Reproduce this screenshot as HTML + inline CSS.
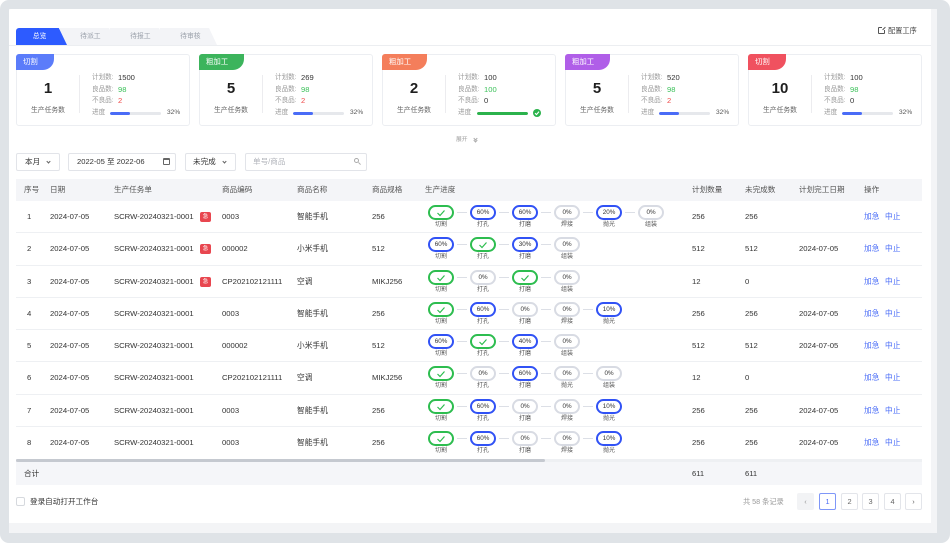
<!DOCTYPE html>
<html><head><meta charset="utf-8">
<style>
*{box-sizing:border-box;margin:0;padding:0}
html,body{width:950px;height:543px;overflow:hidden;background:#fff;font-family:"Liberation Sans","Noto Sans CJK SC",sans-serif;color:#333}
.a{position:absolute;white-space:nowrap}
.frame{position:absolute;left:0;top:0;width:950px;height:543px;background:#dfe3e7;border-radius:9px}
.strip{position:absolute;left:9px;top:9px;width:928px;height:524px;background:#f3f4f6}
.panel{position:absolute;left:9px;top:9px;width:922px;height:514px;background:#fff;border-radius:2px 0 0 0}
.tab{position:absolute;top:28px;height:17px;line-height:17px;font-size:6.8px;text-align:center;color:#9aa0aa}
.cd{position:absolute;top:54px;width:174px;height:72px;border:1px solid #eceef2;border-radius:3px;background:#fff}
.tag{position:absolute;left:-1px;top:-1px;height:16px;line-height:16px;padding-left:7px;font-size:7.4px;color:#fff;border-radius:3px 0 11px 0}
.num{position:absolute;left:0;width:62px;top:25px;text-align:center;font-size:15px;font-weight:bold;color:#1f1f1f;line-height:18px}
.sub{position:absolute;left:0;width:62px;top:52px;text-align:center;font-size:6.8px;color:#666;line-height:8px}
.dv{position:absolute;left:62px;top:20px;width:1px;height:38px;background:#ececef}
.lb{position:absolute;left:75px;font-size:6.6px;color:#9a9a9a;line-height:8px}
.vl{position:absolute;left:101px;font-size:7.6px;color:#333;line-height:8px}
.bar{position:absolute;left:93px;top:57px;width:51px;height:3px;background:#e6e8ec;border-radius:2px;overflow:hidden}
.bar i{display:block;height:3px;background:#4a6cf7;border-radius:2px}
.pc{position:absolute;left:150px;top:54px;font-size:6.6px;color:#555;line-height:8px}
.fb{position:absolute;top:153px;height:18px;border:1px solid #e2e4e9;border-radius:2px;font-size:7.6px;line-height:16px;color:#333}
.caret{position:absolute;width:3px;height:3px;border-right:1px solid #666;border-bottom:1px solid #666;transform:rotate(45deg)}
.hd{position:absolute;left:16px;top:179px;width:906px;height:22px;background:#f4f5f8;font-size:7.6px;color:#555}
.hd span{position:absolute;top:0;line-height:22px;white-space:nowrap}
.r{position:absolute;left:16px;width:906px;height:32.25px;border-bottom:1px solid #eef0f3;font-size:7.7px;color:#333}
.r .c{position:absolute;top:0;line-height:31px;white-space:nowrap}
.r .bl{color:#4a6cf7}
.bd{position:absolute;left:184px;top:11px;width:11px;height:10px;background:#e8464f;border-radius:2px;color:#fff;font-size:5.5px;line-height:10px;text-align:center}
.p{position:absolute;top:4px;width:26px;height:15px;border:2px solid #d8dbe3;border-radius:8px;font-size:6.3px;line-height:11px;text-align:center;color:#333;background:#fff}
.p.g{border-color:#2dbd4f}
.p.b{border-color:#3152f5}
.p svg{display:block;margin:2px auto 0}
.l{position:absolute;top:21px;width:26px;text-align:center;font-size:6px;line-height:7px;color:#555}
.cn{position:absolute;top:11px;width:10px;height:1px;background:#dcdfe6}
.pg{position:absolute;top:493px;width:17px;height:17px;border:1px solid #e3e5ea;border-radius:2px;font-size:7.4px;line-height:15px;text-align:center;color:#666;background:#fff}
</style></head>
<body>
<div class="frame"></div>
<div class="strip"></div>
<div class="panel"></div>

<!-- tabs -->
<div class="a" style="left:9px;top:45px;width:922px;height:1px;background:#eceef1"></div>
<div class="tab" style="left:160px;width:57px;background:#f3f4f7;clip-path:polygon(0 0,86% 0,100% 100%,0 100%)">&nbsp;&nbsp;待审核</div>
<div class="tab" style="left:110px;width:57px;background:#f3f4f7;clip-path:polygon(0 0,86% 0,100% 100%,0 100%)">&nbsp;&nbsp;待报工</div>
<div class="tab" style="left:60px;width:57px;background:#f3f4f7;clip-path:polygon(0 0,86% 0,100% 100%,0 100%)">&nbsp;&nbsp;待派工</div>
<div class="tab" style="left:16px;width:51px;background:#2d5bff;color:#fff;border-radius:3px 0 0 0;clip-path:polygon(0 0,84% 0,100% 100%,0 100%)">总览&nbsp;&nbsp;</div>

<!-- config -->
<div class="a" style="left:878px;top:27px;width:7px;height:7px;border:1px solid #555;border-radius:1px"></div>
<div class="a" style="left:882px;top:26px;width:4px;height:4px;background:#fff"></div>
<div class="a" style="left:882px;top:28px;width:4px;height:1px;background:#555;transform:rotate(-45deg)"></div>
<div class="a" style="left:888px;top:27px;font-size:7.2px;line-height:8px;color:#444">配置工序</div>

<!-- cards -->
<div class="cd" style="left:16px">
 <div class="tag" style="width:38px;background:#5b7cfa">切割</div>
 <div class="num">1</div><div class="sub">生产任务数</div><div class="dv"></div>
 <div class="lb" style="top:19px">计划数:</div><div class="vl" style="top:19px">1500</div>
 <div class="lb" style="top:31px">良品数:</div><div class="vl" style="top:31px;color:#3cc15a">98</div>
 <div class="lb" style="top:42px">不良品:</div><div class="vl" style="top:42px;color:#f04a4a">2</div>
 <div class="lb" style="top:54px">进度</div><div class="bar"><i style="width:40%"></i></div><div class="pc">32%</div>
</div>
<div class="cd" style="left:199px">
 <div class="tag" style="width:45px;background:#3cb45c">粗加工</div>
 <div class="num">5</div><div class="sub">生产任务数</div><div class="dv"></div>
 <div class="lb" style="top:19px">计划数:</div><div class="vl" style="top:19px">269</div>
 <div class="lb" style="top:31px">良品数:</div><div class="vl" style="top:31px;color:#3cc15a">98</div>
 <div class="lb" style="top:42px">不良品:</div><div class="vl" style="top:42px;color:#f04a4a">2</div>
 <div class="lb" style="top:54px">进度</div><div class="bar"><i style="width:40%"></i></div><div class="pc">32%</div>
</div>
<div class="cd" style="left:382px">
 <div class="tag" style="width:45px;background:#f47e5b">粗加工</div>
 <div class="num">2</div><div class="sub">生产任务数</div><div class="dv"></div>
 <div class="lb" style="top:19px">计划数:</div><div class="vl" style="top:19px">100</div>
 <div class="lb" style="top:31px">良品数:</div><div class="vl" style="top:31px;color:#3cc15a">100</div>
 <div class="lb" style="top:42px">不良品:</div><div class="vl" style="top:42px">0</div>
 <div class="lb" style="top:54px">进度</div><div class="bar" style="left:94px"><i style="width:100%;background:#2bb24c"></i></div>
 <div class="a" style="left:150px;top:54px;width:8px;height:8px;border-radius:50%;background:#2bb24c"><svg width="8" height="8" viewBox="0 0 8 8" style="display:block"><polyline points="2,4.2 3.5,5.6 6,2.6" fill="none" stroke="#fff" stroke-width="1.1"/></svg></div>
</div>
<div class="cd" style="left:565px">
 <div class="tag" style="width:45px;background:#b05ee8">粗加工</div>
 <div class="num">5</div><div class="sub">生产任务数</div><div class="dv"></div>
 <div class="lb" style="top:19px">计划数:</div><div class="vl" style="top:19px">520</div>
 <div class="lb" style="top:31px">良品数:</div><div class="vl" style="top:31px;color:#3cc15a">98</div>
 <div class="lb" style="top:42px">不良品:</div><div class="vl" style="top:42px;color:#f04a4a">2</div>
 <div class="lb" style="top:54px">进度</div><div class="bar"><i style="width:40%"></i></div><div class="pc">32%</div>
</div>
<div class="cd" style="left:748px">
 <div class="tag" style="width:38px;background:#f0515f">切割</div>
 <div class="num">10</div><div class="sub">生产任务数</div><div class="dv"></div>
 <div class="lb" style="top:19px">计划数:</div><div class="vl" style="top:19px">100</div>
 <div class="lb" style="top:31px">良品数:</div><div class="vl" style="top:31px;color:#3cc15a">98</div>
 <div class="lb" style="top:42px">不良品:</div><div class="vl" style="top:42px">0</div>
 <div class="lb" style="top:54px">进度</div><div class="bar"><i style="width:40%"></i></div><div class="pc">32%</div>
</div>

<!-- expand -->
<div class="a" style="left:456px;top:137px;font-size:5.8px;line-height:7px;color:#999">展开</div>
<div class="caret" style="left:474px;top:137px;border-color:#aaa"></div>
<div class="caret" style="left:474px;top:139px;border-color:#aaa"></div>

<!-- filters -->
<div class="fb" style="left:16px;width:44px"><span class="a" style="left:8px">本月</span><span class="caret" style="left:30px;top:6px"></span></div>
<div class="fb" style="left:68px;width:108px"><span class="a" style="left:8px">2022-05 至 2022-06</span>
 <span class="a" style="left:94px;top:4px;width:7px;height:7px;border:1px solid #666;border-top-width:2px;border-radius:1px"></span></div>
<div class="fb" style="left:185px;width:51px"><span class="a" style="left:7px">未完成</span><span class="caret" style="left:37px;top:6px"></span></div>
<div class="fb" style="left:245px;width:122px"><span class="a" style="left:7px;color:#b0b3ba">单号/商品</span>
 <span class="a" style="left:108px;top:4px;width:5px;height:5px;border:1px solid #aaa;border-radius:50%"></span>
 <span class="a" style="left:112px;top:9px;width:3px;height:1px;background:#aaa;transform:rotate(45deg)"></span></div>

<!-- table header -->
<div class="hd">
 <span style="left:8px">序号</span><span style="left:34px">日期</span><span style="left:98px">生产任务单</span>
 <span style="left:206px">商品编码</span><span style="left:281px">商品名称</span><span style="left:356px">商品规格</span>
 <span style="left:409px">生产进度</span><span style="left:676px">计划数量</span><span style="left:729px">未完成数</span>
 <span style="left:783px">计划完工日期</span><span style="left:848px">操作</span>
</div>

<!-- row 1 -->
<div class="r" style="top:201px">
 <span class="c" style="left:11px">1</span><span class="c" style="left:34px">2024-07-05</span><span class="c" style="left:98px">SCRW-20240321-0001</span><span class="bd">急</span>
 <span class="c" style="left:206px">0003</span><span class="c" style="left:281px">智能手机</span><span class="c" style="left:356px">256</span>
 <span class="p g" style="left:412px"><svg width="10" height="8" viewBox="0 0 10 8"><polyline points="1.5,4 4,6.5 8.5,1.5" fill="none" stroke="#2dbd4f" stroke-width="1.2"/></svg></span><span class="l" style="left:412px">切割</span>
 <span class="cn" style="left:441px"></span>
 <span class="p b" style="left:454px">60%</span><span class="l" style="left:454px">打孔</span>
 <span class="cn" style="left:483px"></span>
 <span class="p b" style="left:496px">60%</span><span class="l" style="left:496px">打磨</span>
 <span class="cn" style="left:525px"></span>
 <span class="p" style="left:538px">0%</span><span class="l" style="left:538px">焊接</span>
 <span class="cn" style="left:567px"></span>
 <span class="p b" style="left:580px">20%</span><span class="l" style="left:580px">抛光</span>
 <span class="cn" style="left:609px"></span>
 <span class="p" style="left:622px">0%</span><span class="l" style="left:622px">组装</span>
 <span class="c" style="left:676px">256</span><span class="c" style="left:729px">256</span>
 <span class="c bl" style="left:848px">加急</span><span class="c bl" style="left:869px">中止</span>
</div>
<!-- row 2 -->
<div class="r" style="top:233.25px">
 <span class="c" style="left:11px">2</span><span class="c" style="left:34px">2024-07-05</span><span class="c" style="left:98px">SCRW-20240321-0001</span><span class="bd">急</span>
 <span class="c" style="left:206px">000002</span><span class="c" style="left:281px">小米手机</span><span class="c" style="left:356px">512</span>
 <span class="p b" style="left:412px">60%</span><span class="l" style="left:412px">切割</span>
 <span class="cn" style="left:441px"></span>
 <span class="p g" style="left:454px"><svg width="10" height="8" viewBox="0 0 10 8"><polyline points="1.5,4 4,6.5 8.5,1.5" fill="none" stroke="#2dbd4f" stroke-width="1.2"/></svg></span><span class="l" style="left:454px">打孔</span>
 <span class="cn" style="left:483px"></span>
 <span class="p b" style="left:496px">30%</span><span class="l" style="left:496px">打磨</span>
 <span class="cn" style="left:525px"></span>
 <span class="p" style="left:538px">0%</span><span class="l" style="left:538px">组装</span>
 <span class="c" style="left:676px">512</span><span class="c" style="left:729px">512</span><span class="c" style="left:783px">2024-07-05</span>
 <span class="c bl" style="left:848px">加急</span><span class="c bl" style="left:869px">中止</span>
</div>
<!-- row 3 -->
<div class="r" style="top:265.5px">
 <span class="c" style="left:11px">3</span><span class="c" style="left:34px">2024-07-05</span><span class="c" style="left:98px">SCRW-20240321-0001</span><span class="bd">急</span>
 <span class="c" style="left:206px">CP202102121111</span><span class="c" style="left:281px">空调</span><span class="c" style="left:356px">MIKJ256</span>
 <span class="p g" style="left:412px"><svg width="10" height="8" viewBox="0 0 10 8"><polyline points="1.5,4 4,6.5 8.5,1.5" fill="none" stroke="#2dbd4f" stroke-width="1.2"/></svg></span><span class="l" style="left:412px">切割</span>
 <span class="cn" style="left:441px"></span>
 <span class="p" style="left:454px">0%</span><span class="l" style="left:454px">打孔</span>
 <span class="cn" style="left:483px"></span>
 <span class="p g" style="left:496px"><svg width="10" height="8" viewBox="0 0 10 8"><polyline points="1.5,4 4,6.5 8.5,1.5" fill="none" stroke="#2dbd4f" stroke-width="1.2"/></svg></span><span class="l" style="left:496px">打磨</span>
 <span class="cn" style="left:525px"></span>
 <span class="p" style="left:538px">0%</span><span class="l" style="left:538px">组装</span>
 <span class="c" style="left:676px">12</span><span class="c" style="left:729px">0</span>
 <span class="c bl" style="left:848px">加急</span><span class="c bl" style="left:869px">中止</span>
</div>
<!-- row 4 -->
<div class="r" style="top:297.75px">
 <span class="c" style="left:11px">4</span><span class="c" style="left:34px">2024-07-05</span><span class="c" style="left:98px">SCRW-20240321-0001</span>
 <span class="c" style="left:206px">0003</span><span class="c" style="left:281px">智能手机</span><span class="c" style="left:356px">256</span>
 <span class="p g" style="left:412px"><svg width="10" height="8" viewBox="0 0 10 8"><polyline points="1.5,4 4,6.5 8.5,1.5" fill="none" stroke="#2dbd4f" stroke-width="1.2"/></svg></span><span class="l" style="left:412px">切割</span>
 <span class="cn" style="left:441px"></span>
 <span class="p b" style="left:454px">60%</span><span class="l" style="left:454px">打孔</span>
 <span class="cn" style="left:483px"></span>
 <span class="p" style="left:496px">0%</span><span class="l" style="left:496px">打磨</span>
 <span class="cn" style="left:525px"></span>
 <span class="p" style="left:538px">0%</span><span class="l" style="left:538px">焊接</span>
 <span class="cn" style="left:567px"></span>
 <span class="p b" style="left:580px">10%</span><span class="l" style="left:580px">抛光</span>
 <span class="c" style="left:676px">256</span><span class="c" style="left:729px">256</span><span class="c" style="left:783px">2024-07-05</span>
 <span class="c bl" style="left:848px">加急</span><span class="c bl" style="left:869px">中止</span>
</div>
<!-- row 5 -->
<div class="r" style="top:330px">
 <span class="c" style="left:11px">5</span><span class="c" style="left:34px">2024-07-05</span><span class="c" style="left:98px">SCRW-20240321-0001</span>
 <span class="c" style="left:206px">000002</span><span class="c" style="left:281px">小米手机</span><span class="c" style="left:356px">512</span>
 <span class="p b" style="left:412px">60%</span><span class="l" style="left:412px">切割</span>
 <span class="cn" style="left:441px"></span>
 <span class="p g" style="left:454px"><svg width="10" height="8" viewBox="0 0 10 8"><polyline points="1.5,4 4,6.5 8.5,1.5" fill="none" stroke="#2dbd4f" stroke-width="1.2"/></svg></span><span class="l" style="left:454px">打孔</span>
 <span class="cn" style="left:483px"></span>
 <span class="p b" style="left:496px">40%</span><span class="l" style="left:496px">打磨</span>
 <span class="cn" style="left:525px"></span>
 <span class="p" style="left:538px">0%</span><span class="l" style="left:538px">组装</span>
 <span class="c" style="left:676px">512</span><span class="c" style="left:729px">512</span><span class="c" style="left:783px">2024-07-05</span>
 <span class="c bl" style="left:848px">加急</span><span class="c bl" style="left:869px">中止</span>
</div>
<!-- row 6 -->
<div class="r" style="top:362.25px">
 <span class="c" style="left:11px">6</span><span class="c" style="left:34px">2024-07-05</span><span class="c" style="left:98px">SCRW-20240321-0001</span>
 <span class="c" style="left:206px">CP202102121111</span><span class="c" style="left:281px">空调</span><span class="c" style="left:356px">MIKJ256</span>
 <span class="p g" style="left:412px"><svg width="10" height="8" viewBox="0 0 10 8"><polyline points="1.5,4 4,6.5 8.5,1.5" fill="none" stroke="#2dbd4f" stroke-width="1.2"/></svg></span><span class="l" style="left:412px">切割</span>
 <span class="cn" style="left:441px"></span>
 <span class="p" style="left:454px">0%</span><span class="l" style="left:454px">打孔</span>
 <span class="cn" style="left:483px"></span>
 <span class="p b" style="left:496px">60%</span><span class="l" style="left:496px">打磨</span>
 <span class="cn" style="left:525px"></span>
 <span class="p" style="left:538px">0%</span><span class="l" style="left:538px">抛光</span>
 <span class="cn" style="left:567px"></span>
 <span class="p" style="left:580px">0%</span><span class="l" style="left:580px">组装</span>
 <span class="c" style="left:676px">12</span><span class="c" style="left:729px">0</span>
 <span class="c bl" style="left:848px">加急</span><span class="c bl" style="left:869px">中止</span>
</div>
<!-- row 7 -->
<div class="r" style="top:394.5px">
 <span class="c" style="left:11px">7</span><span class="c" style="left:34px">2024-07-05</span><span class="c" style="left:98px">SCRW-20240321-0001</span>
 <span class="c" style="left:206px">0003</span><span class="c" style="left:281px">智能手机</span><span class="c" style="left:356px">256</span>
 <span class="p g" style="left:412px"><svg width="10" height="8" viewBox="0 0 10 8"><polyline points="1.5,4 4,6.5 8.5,1.5" fill="none" stroke="#2dbd4f" stroke-width="1.2"/></svg></span><span class="l" style="left:412px">切割</span>
 <span class="cn" style="left:441px"></span>
 <span class="p b" style="left:454px">60%</span><span class="l" style="left:454px">打孔</span>
 <span class="cn" style="left:483px"></span>
 <span class="p" style="left:496px">0%</span><span class="l" style="left:496px">打磨</span>
 <span class="cn" style="left:525px"></span>
 <span class="p" style="left:538px">0%</span><span class="l" style="left:538px">焊接</span>
 <span class="cn" style="left:567px"></span>
 <span class="p b" style="left:580px">10%</span><span class="l" style="left:580px">抛光</span>
 <span class="c" style="left:676px">256</span><span class="c" style="left:729px">256</span><span class="c" style="left:783px">2024-07-05</span>
 <span class="c bl" style="left:848px">加急</span><span class="c bl" style="left:869px">中止</span>
</div>
<!-- row 8 -->
<div class="r" style="top:426.75px;border-bottom:none">
 <span class="c" style="left:11px">8</span><span class="c" style="left:34px">2024-07-05</span><span class="c" style="left:98px">SCRW-20240321-0001</span>
 <span class="c" style="left:206px">0003</span><span class="c" style="left:281px">智能手机</span><span class="c" style="left:356px">256</span>
 <span class="p g" style="left:412px"><svg width="10" height="8" viewBox="0 0 10 8"><polyline points="1.5,4 4,6.5 8.5,1.5" fill="none" stroke="#2dbd4f" stroke-width="1.2"/></svg></span><span class="l" style="left:412px">切割</span>
 <span class="cn" style="left:441px"></span>
 <span class="p b" style="left:454px">60%</span><span class="l" style="left:454px">打孔</span>
 <span class="cn" style="left:483px"></span>
 <span class="p" style="left:496px">0%</span><span class="l" style="left:496px">打磨</span>
 <span class="cn" style="left:525px"></span>
 <span class="p" style="left:538px">0%</span><span class="l" style="left:538px">焊接</span>
 <span class="cn" style="left:567px"></span>
 <span class="p b" style="left:580px">10%</span><span class="l" style="left:580px">抛光</span>
 <span class="c" style="left:676px">256</span><span class="c" style="left:729px">256</span><span class="c" style="left:783px">2024-07-05</span>
 <span class="c bl" style="left:848px">加急</span><span class="c bl" style="left:869px">中止</span>
</div>

<!-- scrollbar + summary -->
<div class="a" style="left:16px;top:459px;width:906px;height:3px;background:#eef0f3"></div>
<div class="a" style="left:16px;top:459px;width:529px;height:3px;background:#c5c9d0;border-radius:2px"></div>
<div class="a" style="left:16px;top:462px;width:906px;height:23px;background:#f5f6f9;font-size:7.6px;color:#333">
 <span class="a" style="left:8px;top:0;line-height:23px">合计</span>
 <span class="a" style="left:676px;top:0;line-height:23px">611</span>
 <span class="a" style="left:729px;top:0;line-height:23px">611</span>
</div>

<!-- footer -->
<div class="a" style="left:16px;top:497px;width:9px;height:9px;border:1px solid #d6d9de;border-radius:2px;background:#fff"></div>
<div class="a" style="left:30px;top:497px;font-size:7.6px;line-height:9px;color:#333">登录自动打开工作台</div>

<div class="a" style="left:743px;top:497px;font-size:7.2px;line-height:9px;color:#999">共 58 条记录</div>
<div class="pg" style="left:797px;background:#f2f3f5;border-color:#f2f3f5;color:#999">‹</div>
<div class="pg" style="left:819px;border-color:#7f97f8;color:#4a6cf7">1</div>
<div class="pg" style="left:841px">2</div>
<div class="pg" style="left:862px">3</div>
<div class="pg" style="left:884px">4</div>
<div class="pg" style="left:905px">›</div>
</body></html>
